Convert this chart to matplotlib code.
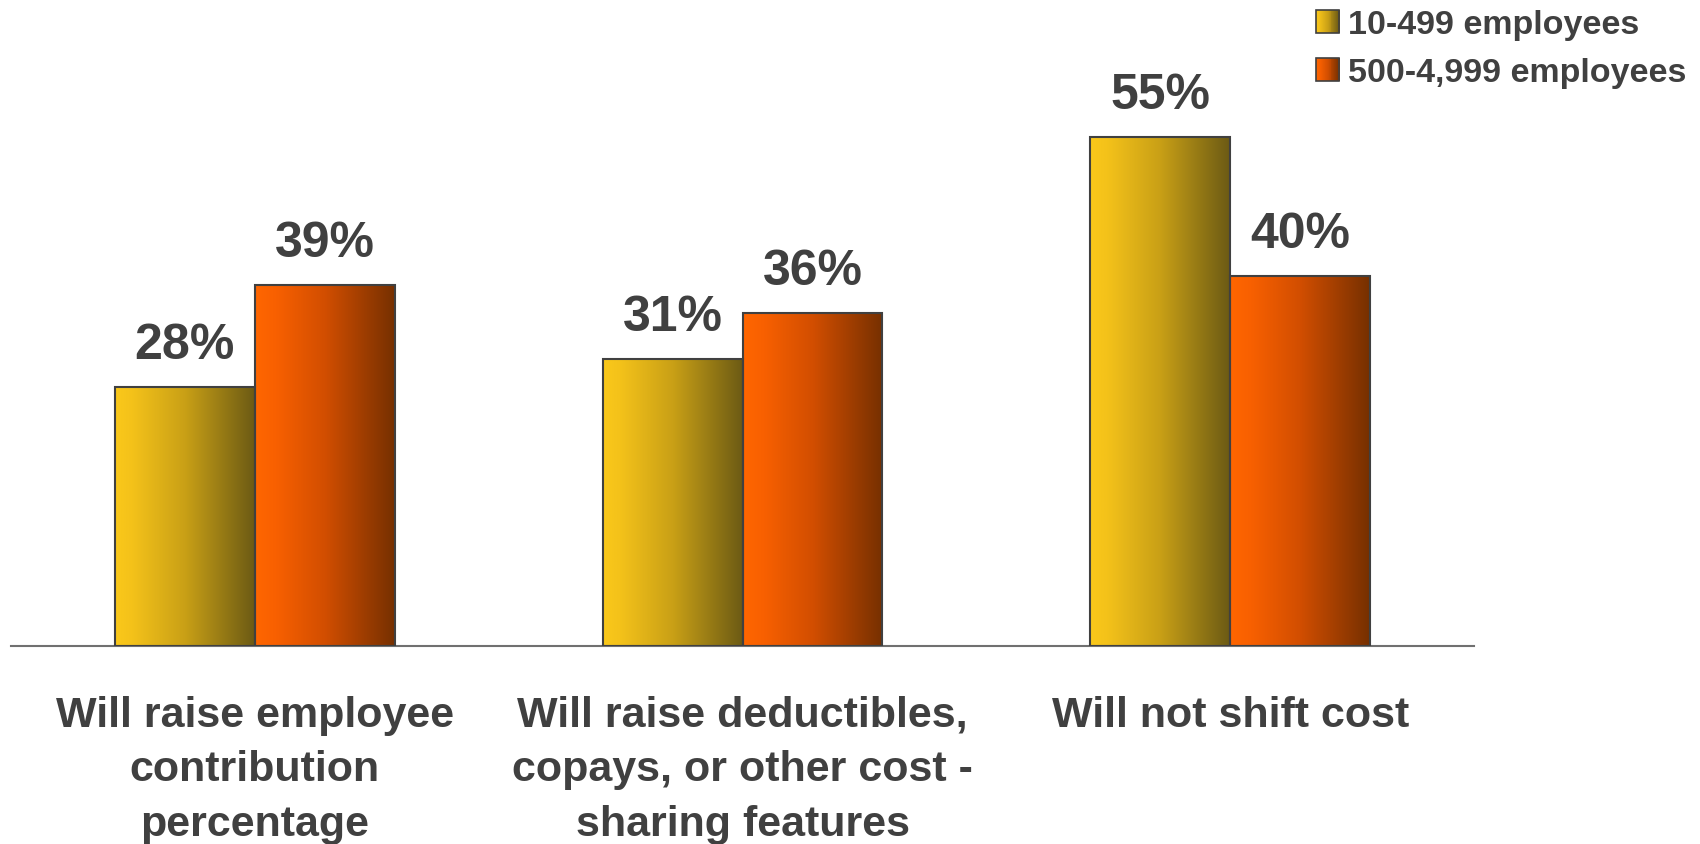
import numpy as np
import matplotlib
matplotlib.use("Agg")
import matplotlib.pyplot as plt
from matplotlib.colors import LinearSegmentedColormap
from matplotlib.patches import Rectangle
from matplotlib.legend_handler import HandlerBase

categories = [
    "Will raise employee\ncontribution\npercentage",
    "Will raise deductibles,\ncopays, or other cost -\nsharing features",
    "Will not shift cost",
]
series_names = ["10-499 employees", "500-4,999 employees"]
small_firms = [28, 31, 55]
mid_firms = [39, 36, 40]

TEXT = "#404040"
EDGE = "#404040"
FONT = "Liberation Sans"

yellow_cmap = LinearSegmentedColormap.from_list(
    "yel", [(0, "#FAC81A"), (0.12, "#F4C21A"), (0.5, "#C9A016"), (1, "#6C5A14")])
orange_cmap = LinearSegmentedColormap.from_list(
    "org", [(0, "#FF6600"), (0.15, "#F86000"), (0.5, "#D24E00"), (1, "#763000")])
cmaps = [yellow_cmap, orange_cmap]

fig = plt.figure(figsize=(17, 8.45), dpi=100)
ax = fig.add_axes([11 / 1700, 1 - 647 / 845, 1463 / 1700, 555 / 845])
ax.set_xlim(-0.5, 2.5)
ax.set_ylim(0, 60)

width = 0.287
x = np.arange(len(categories))
grad = np.linspace(0, 1, 256).reshape(1, -1)

for i, vals in enumerate([small_firms, mid_firms]):
    offs = (i - 0.5) * width
    bars = ax.bar(x + offs, vals, width, facecolor="none", edgecolor=EDGE,
                  linewidth=1.5, zorder=3)
    for b, v in zip(bars, vals):
        x0, w = b.get_x(), b.get_width()
        im = ax.imshow(grad, cmap=cmaps[i], aspect="auto",
                       extent=(x0, x0 + w, 0, v), zorder=2)
        im.set_clip_path(b)
        ax.annotate(f"{v}%", (x0 + w / 2, v), xytext=(0, 21),
                    textcoords="offset points", ha="center", va="baseline",
                    fontsize=36, fontweight="bold", color=TEXT, family=FONT)

ax.set_xlim(-0.5, 2.5)
ax.set_ylim(0, 60)
for s in ["left", "right", "top"]:
    ax.spines[s].set_visible(False)
ax.spines["bottom"].set_color("#707070")
ax.spines["bottom"].set_linewidth(1.5)
ax.set_yticks([])
ax.set_xticks(x)
ax.set_xticklabels(categories, fontsize=31, fontweight="bold", color=TEXT,
                   family=FONT, linespacing=1.47)
ax.tick_params(axis="x", length=0, pad=35)


class GradientHandler(HandlerBase):
    def __init__(self, cmap):
        super().__init__()
        self.cmap = cmap

    def create_artists(self, legend, orig_handle, xdescent, ydescent,
                       width, height, fontsize, trans):
        side = height * 0.98
        x0 = -xdescent + (width - side) / 2
        y0 = -ydescent + (height - side) / 2
        n = 24
        arts = []
        for k in range(n):
            arts.append(Rectangle((x0 + side * k / n, y0), side / n + 0.3, side,
                                  facecolor=self.cmap((k + 0.5) / n),
                                  edgecolor="none", transform=trans))
        arts.append(Rectangle((x0, y0), side, side, facecolor="none",
                              edgecolor=EDGE, linewidth=1.2, transform=trans))
        return arts


h1 = Rectangle((0, 0), 1, 1)
h2 = Rectangle((0, 0), 1, 1)
leg = fig.legend([h1, h2], series_names, loc="upper right",
                 bbox_to_anchor=(0.998, 1.0), frameon=False,
                 handler_map={h1: GradientHandler(yellow_cmap),
                              h2: GradientHandler(orange_cmap)},
                 prop={"family": FONT, "weight": "bold", "size": 24.5},
                 handlelength=0.8, handletextpad=0.2, labelspacing=0.5,
                 borderaxespad=0.0, borderpad=0.3)
for t in leg.get_texts():
    t.set_color(TEXT)

fig.savefig("out.png", dpi=100)
